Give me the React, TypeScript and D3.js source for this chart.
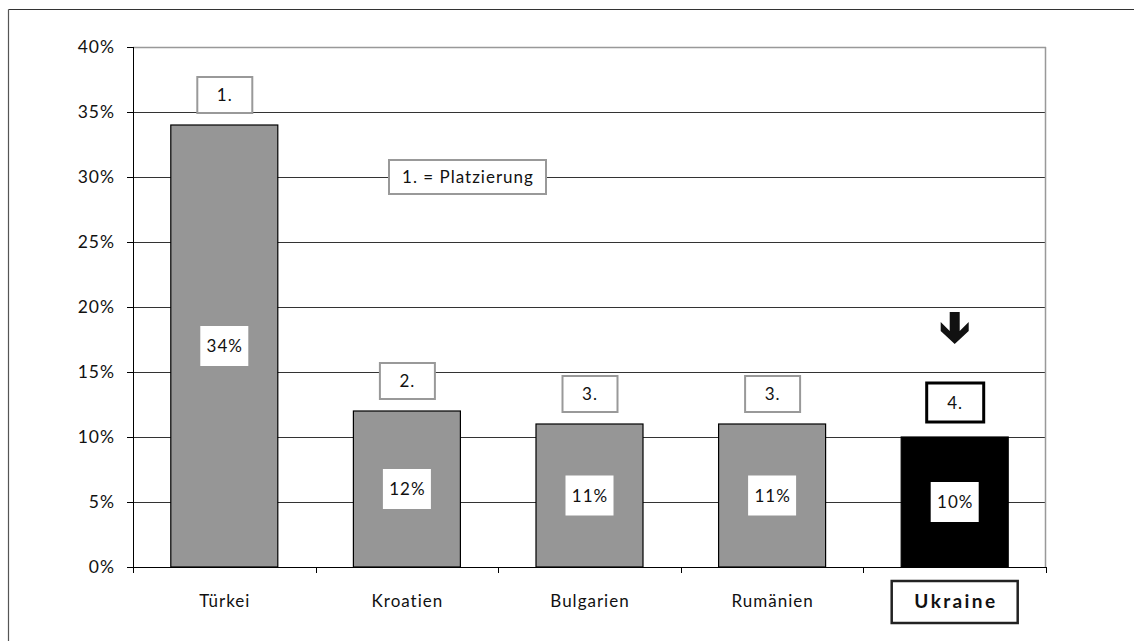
import React from "react";
import * as d3 from "d3";

const categories = ["Türkei", "Kroatien", "Bulgarien", "Rumänien", "Ukraine"];
const values = [34, 12, 11, 11, 10];
const ranks = ["1.", "2.", "3.", "3.", "4."];
const yTickValues = [0, 5, 10, 15, 20, 25, 30, 35, 40];
const highlight = "Ukraine";
const legendText = "1. = Platzierung";

const W = 1134;
const H = 641;
const FONT = "'Century Gothic', Futura, Lato, 'Noto Sans', sans-serif";
const FS = 17;
const LS = 1;

export default function App() {
  const left = 133;
  const right = 1046;
  const top = 47;
  const bottom = 567;

  const x = d3
    .scaleBand<string>()
    .domain(categories)
    .range([left, right])
    .paddingInner(0.414)
    .paddingOuter(0.207);
  const y = d3.scaleLinear().domain([0, 40]).range([bottom, top]);
  const step = x.step();
  const boundaries = d3.range(categories.length + 1).map((i) => left + i * step);

  const txt = (
    key: string,
    tx: number,
    ty: number,
    s: string,
    anchor: "start" | "middle" | "end" = "middle",
    extra: any = {}
  ) => {
    const ls = extra.ls ?? LS;
    const shift = anchor === "middle" ? ls / 2 : anchor === "end" ? ls : 0;
    return (
      <text
        key={key}
        x={tx + shift}
        y={ty}
        dy="0.36em"
        textAnchor={anchor}
        fontSize={extra.fs ?? FS}
        fontWeight={extra.fw ?? 400}
        letterSpacing={ls}
        fill="#111"
      >
        {s}
      </text>
    );
  };

  return (
    <svg
      width={W}
      height={H}
      style={{ position: "absolute", left: 0, top: 0, fontFamily: FONT }}
    >
      <rect x={0} y={0} width={W} height={H} fill="#fff" />
      {/* outer frame */}
      <line x1={8.5} y1={9.5} x2={W} y2={9.5} stroke="#333" strokeWidth={1.2} />
      <line x1={8.5} y1={9.5} x2={8.5} y2={H} stroke="#555" strokeWidth={1.2} />

      {/* gridlines */}
      {yTickValues
        .filter((t) => t > 0 && t < 40)
        .map((t) => (
          <line
            key={"g" + t}
            x1={left}
            x2={right}
            y1={Math.round(y(t)) + 0.5}
            y2={Math.round(y(t)) + 0.5}
            stroke="#333"
            strokeWidth={1}
          />
        ))}
      {/* plot border top/right gray */}
      <line x1={left} x2={right} y1={top + 0.5} y2={top + 0.5} stroke="#999" strokeWidth={1.5} />
      <line x1={right - 0.5} x2={right - 0.5} y1={top} y2={bottom} stroke="#999" strokeWidth={1.5} />

      {/* y axis */}
      <line x1={left + 0.5} x2={left + 0.5} y1={top} y2={bottom} stroke="#000" />
      {yTickValues.map((t) => (
        <g key={"yt" + t}>
          <line
            x1={left - 6}
            x2={left}
            y1={Math.round(y(t)) + 0.5}
            y2={Math.round(y(t)) + 0.5}
            stroke="#000"
          />
          {txt("ytl" + t, left - 19, y(t), t + "%", "end", { fs: 17.5 })}
        </g>
      ))}

      {/* legend box */}
      <rect x={389} y={160} width={157} height={34} fill="#fff" stroke="#999" strokeWidth={2} />
      {txt("legend", 389 + 157 / 2, 177, legendText)}

      {/* bars */}
      {categories.map((c, i) => {
        const bx = x(c)!;
        const bw = x.bandwidth();
        const cx = bx + bw / 2;
        const yTop = y(values[i]);
        const isH = c === highlight;
        const midY = (yTop + bottom) / 2;
        return (
          <g key={c}>
            <rect
              x={bx}
              y={yTop}
              width={bw}
              height={bottom - yTop}
              fill={isH ? "#000" : "#969696"}
              stroke="#000"
              strokeWidth={1.2}
            />
            <rect x={cx - 24} y={midY - 20} width={48} height={40} fill="#fff" />
            {txt("v" + i, cx, midY, values[i] + "%")}
            {isH ? (
              <g>
                <rect
                  x={cx - 28}
                  y={yTop - 54}
                  width={57}
                  height={39}
                  fill="#fff"
                  stroke="#000"
                  strokeWidth={3}
                />
                {txt("r" + i, cx, yTop - 34.5, ranks[i])}
                <path
                  d={`M${cx - 5},${yTop - 125} L${cx + 5},${yTop - 125} L${cx + 5},${yTop - 106} L${cx + 14},${yTop - 115} L${cx + 14},${yTop - 106} L${cx},${yTop - 93} L${cx - 14},${yTop - 106} L${cx - 14},${yTop - 115} L${cx - 5},${yTop - 106} Z`}
                  fill="#111"
                />
              </g>
            ) : (
              <g>
                <rect
                  x={cx - 27}
                  y={yTop - 48}
                  width={55}
                  height={36}
                  fill="#fff"
                  stroke="#999"
                  strokeWidth={2}
                />
                {txt("r" + i, cx, yTop - 30, ranks[i])}
              </g>
            )}
          </g>
        );
      })}

      {/* x axis */}
      <line x1={left} x2={right} y1={bottom + 0.5} y2={bottom + 0.5} stroke="#000" />
      {boundaries.map((b, i) => (
        <line
          key={"xt" + i}
          x1={Math.round(b) + 0.5}
          x2={Math.round(b) + 0.5}
          y1={bottom}
          y2={bottom + 6}
          stroke="#000"
        />
      ))}
      {categories.map((c) => {
        const cx = x(c)! + x.bandwidth() / 2;
        const isH = c === highlight;
        return (
          <g key={"xl" + c}>
            {isH && (
              <rect
                x={cx - 63}
                y={581}
                width={126}
                height={42}
                fill="#fff"
                stroke="#222"
                strokeWidth={2.5}
              />
            )}
            {isH
              ? txt("xl" + c, cx, 601, c, "middle", { fs: 19, fw: 700, ls: 2.4 })
              : txt("xl" + c, cx, 601, c)}
          </g>
        );
      })}
    </svg>
  );
}
